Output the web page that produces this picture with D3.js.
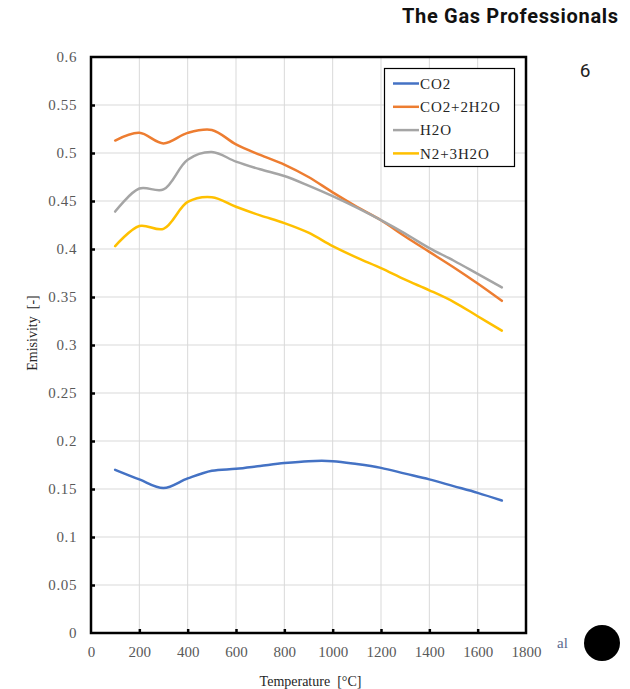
<!DOCTYPE html>
<html>
<head>
<meta charset="utf-8">
<script src="https://cdn.jsdelivr.net/npm/d3@7/dist/d3.min.js"></script>
<style>
  html, body { margin: 0; padding: 0; background: #fff; }
  svg { display: block; }
  text { white-space: pre; }
</style>
</head>
<body>
<svg id="chart" width="630" height="689"></svg>
<script>
// Emissivity of gas mixtures versus temperature
const temperatures = [100, 200, 300, 400, 500, 600, 700, 800, 900, 1000, 1100, 1200, 1300, 1400, 1500, 1600, 1700];
const co2        = [0.170, 0.160, 0.151, 0.161, 0.169, 0.171, 0.174, 0.177, 0.179, 0.179, 0.176, 0.172, 0.166, 0.160, 0.153, 0.146, 0.138];
const co2_2h2o   = [0.513, 0.521, 0.510, 0.521, 0.524, 0.509, 0.498, 0.488, 0.475, 0.459, 0.444, 0.430, 0.413, 0.397, 0.381, 0.364, 0.346];
const h2o        = [0.439, 0.463, 0.462, 0.493, 0.501, 0.491, 0.483, 0.476, 0.466, 0.455, 0.443, 0.430, 0.416, 0.401, 0.388, 0.374, 0.360];
const n2_3h2o    = [0.403, 0.424, 0.421, 0.449, 0.454, 0.444, 0.435, 0.427, 0.417, 0.403, 0.391, 0.380, 0.368, 0.357, 0.345, 0.330, 0.315];

const seriesNames = ["CO2", "CO2+2H2O", "H2O", "N2+3H2O"];
const seriesValues = [co2, co2_2h2o, h2o, n2_3h2o];
const seriesColors = ["#4472C4", "#ED7D31", "#A5A5A5", "#FFC000"];

const xTicks = [0, 200, 400, 600, 800, 1000, 1200, 1400, 1600, 1800];
const yTicks = [0, 0.05, 0.1, 0.15, 0.2, 0.25, 0.3, 0.35, 0.4, 0.45, 0.5, 0.55, 0.6];
const yTickLabels = ["0", "0.05", "0.1", "0.15", "0.2", "0.25", "0.3", "0.35", "0.4", "0.45", "0.5", "0.55", "0.6"];

const svg = d3.select("#chart");

const plot = { left: 91, right: 526, top: 57, bottom: 633 };

const x = d3.scaleLinear().domain([0, 1800]).range([plot.left, plot.right]);
const y = d3.scaleLinear().domain([0, 0.6]).range([plot.bottom, plot.top]);

const serif = "'Liberation Serif', 'Times New Roman', serif";

// gridlines
const grid = svg.append("g");
grid.selectAll("line.vx").data(xTicks.slice(1, -1)).join("line")
  .attr("x1", d => x(d)).attr("x2", d => x(d))
  .attr("y1", plot.top).attr("y2", plot.bottom)
  .attr("stroke", "#d9d9d9").attr("stroke-width", 1);
grid.selectAll("line.hy").data(yTicks.slice(1, -1)).join("line")
  .attr("x1", plot.left).attr("x2", plot.right)
  .attr("y1", d => y(d)).attr("y2", d => y(d))
  .attr("stroke", "#d9d9d9").attr("stroke-width", 1);

// data lines
const line = d3.line()
  .x((d, i) => x(temperatures[i]))
  .y(d => y(d))
  .curve(d3.curveCatmullRom.alpha(0.5));

svg.append("g").selectAll("path").data(seriesValues).join("path")
  .attr("d", d => line(d))
  .attr("fill", "none")
  .attr("stroke", (d, i) => seriesColors[i])
  .attr("stroke-width", 2.5)
  .attr("stroke-linejoin", "round")
  .attr("stroke-linecap", "round");

// axes with inward ticks
const xAxis = d3.axisBottom(x).tickValues(xTicks).tickSizeInner(-4).tickSizeOuter(0).tickFormat(d3.format("d"));
const gx = svg.append("g").attr("transform", `translate(0,${plot.bottom})`).call(xAxis);
gx.select(".domain").remove();
gx.selectAll(".tick line").attr("stroke", "#000").attr("stroke-width", 2.5);
gx.selectAll(".tick text")
  .attr("y", 13).attr("dy", "0.71em")
  .attr("fill", "#595959")
  .style("font-family", serif).style("font-size", "15px");
gx.selectAll(".tick").filter(d => d === 0 || d === 1800).select("line").remove();

const yAxis = d3.axisLeft(y).tickValues(yTicks).tickSizeInner(-4).tickSizeOuter(0)
  .tickFormat((d, i) => yTickLabels[i]);
const gy = svg.append("g").attr("transform", `translate(${plot.left},0)`).call(yAxis);
gy.select(".domain").remove();
gy.selectAll(".tick line").attr("stroke", "#000").attr("stroke-width", 2.5);
gy.selectAll(".tick text")
  .attr("x", -14)
  .attr("fill", "#595959")
  .style("font-family", serif).style("font-size", "15px").style("letter-spacing", "0.6px");
gy.selectAll(".tick").filter(d => d === 0 || d === 0.6).select("line").remove();

// plot frame
svg.append("rect")
  .attr("x", plot.left).attr("y", plot.top)
  .attr("width", plot.right - plot.left).attr("height", plot.bottom - plot.top)
  .attr("fill", "none").attr("stroke", "#000").attr("stroke-width", 2.5);

// axis titles
svg.append("text")
  .attr("x", (plot.left + plot.right) / 2 + 2).attr("y", 686)
  .attr("text-anchor", "middle")
  .style("font-family", serif).style("font-size", "14px").attr("fill", "#262626")
  .text("Temperature  [°C]");

svg.append("text")
  .attr("transform", "translate(37,333) rotate(-90)")
  .attr("text-anchor", "middle")
  .style("font-family", serif).style("font-size", "14px").attr("fill", "#262626")
  .text("Emisivity  [-]");

// legend
const legend = svg.append("g");
legend.append("rect")
  .attr("x", 384.5).attr("y", 68.5).attr("width", 130).attr("height", 98)
  .attr("fill", "#fff").attr("stroke", "#000").attr("stroke-width", 1.2);
const items = legend.selectAll("g.item").data(seriesNames).join("g")
  .attr("transform", (d, i) => `translate(0,${83.5 + i * 23.3})`);
items.append("line")
  .attr("x1", 393).attr("x2", 419).attr("y1", 0).attr("y2", 0)
  .attr("stroke", (d, i) => seriesColors[i]).attr("stroke-width", 2.5);
items.append("text")
  .attr("x", 420).attr("y", 0).attr("dy", "0.35em")
  .style("font-family", serif).style("font-size", "15px").style("letter-spacing", "0.9px")
  .attr("fill", "#262626")
  .text(d => d);

// header and page furniture
svg.append("text")
  .attr("x", 402).attr("y", 23)
  .attr("textLength", 216).attr("lengthAdjust", "spacing")
  .style("font-family", "Roboto, 'Liberation Sans', sans-serif").style("font-weight", "bold").style("font-size", "20px")
  .attr("fill", "#111")
  .text("The Gas Professionals");

svg.append("text")
  .attr("x", 585).attr("y", 77)
  .attr("text-anchor", "middle")
  .style("font-family", "Roboto, 'Liberation Sans', sans-serif").style("font-size", "19px")
  .attr("fill", "#222")
  .text("6");

svg.append("text")
  .attr("x", 557).attr("y", 648)
  .style("font-family", serif).style("font-size", "15px")
  .attr("fill", "#5a6a90")
  .text("al");

svg.append("circle")
  .attr("cx", 602).attr("cy", 643).attr("r", 18)
  .attr("fill", "#000");
</script>
</body>
</html>
